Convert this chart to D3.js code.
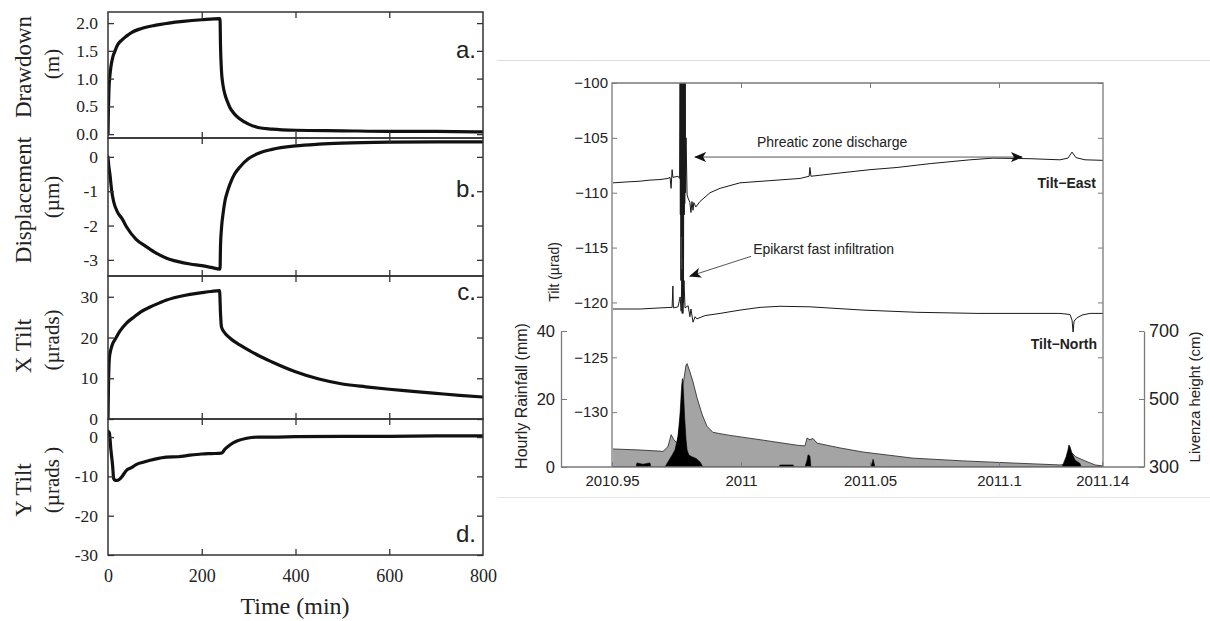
<!DOCTYPE html>
<html><head><meta charset="utf-8">
<script src="https://cdn.jsdelivr.net/npm/d3@7"></script>
<style>
html,body{margin:0;padding:0;background:#fff;}
svg{display:block;}
</style></head>
<body>
<script>
// ---------------- LEFT FIGURE DATA ----------------
const timeTicks = [0, 200, 400, 600, 800];
const drawdownT = [0,1,2,4,6,10,15,20,30,40,50,70,100,130,160,200,239,240,242,245,250,255,260,270,280,300,320,350,400,500,600,700,800];
const drawdownV = [0,0.5,0.8,1.05,1.2,1.38,1.5,1.6,1.7,1.77,1.83,1.9,1.96,2.0,2.03,2.06,2.08,1.6,1.15,0.9,0.7,0.58,0.48,0.36,0.28,0.18,0.12,0.09,0.07,0.06,0.05,0.05,0.04];
const dispT = [0,2,4,8,12,20,30,40,60,80,100,125,150,175,200,220,239,240,242,246,250,255,260,270,281,300,324,350,400,450,500,600,700,800];
const dispV = [0,-0.3,-0.5,-1.0,-1.3,-1.6,-1.8,-2.05,-2.4,-2.6,-2.78,-2.95,-3.05,-3.12,-3.17,-3.22,-3.27,-2.6,-2.1,-1.6,-1.25,-1.0,-0.8,-0.5,-0.3,-0.05,0.12,0.22,0.32,0.37,0.4,0.43,0.44,0.44];
const xtiltT = [0,1,3,6,10,15,25,40,55,70,90,110,125,150,175,200,220,238,240,242,250,260,270,281,300,324,350,400,450,500,550,600,650,700,750,800];
const xtiltV = [0,8,15,17,18.5,19.5,21.5,23.6,25,26.3,27.5,28.5,29.2,30,30.6,31,31.3,31.5,26,22.6,21.0,19.9,19.0,18.2,16.9,15.4,14.0,11.6,9.8,8.6,7.9,7.3,6.8,6.3,5.8,5.4];
const ytiltT = [0,3,6,10,12,15,20,25,30,40,50,60,75,100,125,150,175,200,220,242,250,260,275,296,320,350,400,500,600,700,800];
const ytiltV = [1.5,1,-3,-7.5,-10.5,-11,-11,-10.7,-10,-8.4,-7.8,-7,-6.4,-5.6,-5.1,-5,-4.6,-4.3,-4.2,-4.1,-3,-2,-1,-0.3,0,0,0.1,0.2,0.2,0.3,0.3];

const panelNames = ["a.", "b.", "c.", "d."];
const panelTitles = ["Drawdown", "Displacement", "X Tilt", "Y Tilt"];
const panelUnits = ["(m)", "(\u00b5m)", "(\u00b5rads)", "(\u00b5rads )"];
const panelDomains = [[-0.07, 2.2], [-3.47, 0.55], [0, 35.1], [-30, 4.6]];
const panelTicks = [[0, 0.5, 1, 1.5, 2], [-3, -2, -1, 0], [0, 10, 20, 30], [-30, -20, -10, 0]];

// ---------------- RIGHT FIGURE DATA ----------------
const yearTicks = [2010.95, 2011, 2011.05, 2011.1, 2011.14];
const tiltTicks = [-130, -125, -120, -115, -110, -105, -100];
const rainTicks = [0, 20, 40];
const livTicks = [300, 500, 700];

const eastYears = [2010.9504,2010.9570,2010.9609,2010.9647,2010.9686,2010.9717,2010.9725,2010.9729,2010.9733,2010.9736,2010.9756,2010.9762,
  2010.9764,2010.9765,2010.9766,2010.9767,2010.9769,2010.9770,2010.9771,2010.9772,2010.9774,2010.9775,2010.9776,2010.9777,2010.9779,2010.9780,2010.9781,2010.9782,2010.9784,2010.9785,
  2010.9787,2010.9791,2010.9795,2010.9802,2010.9806,2010.9810,2010.9814,2010.9817,2010.9825,2010.9841,2010.9880,2010.9919,2010.9996,2011.0112,2011.0229,2011.0264,2011.0267,2011.0271,2011.0384,2011.0500,2011.0605,2011.0733,2011.0888,2011.0977,2011.1120,2011.1236,2011.1267,2011.1283,2011.1298,2011.1333,2011.1403];
const eastTilt = [-109.1,-109.0,-108.95,-108.85,-108.8,-108.7,-108.6,-109.6,-107.9,-108.6,-108.5,-108.7,
  -97,-112,-97,-118,-97,-114,-97,-121,-97,-116,-97,-120,-97,-112,-97,-111,-97,-110,
  -105,-110.2,-110.5,-110.9,-111.8,-110.8,-111.6,-110.9,-111.3,-110.8,-110.0,-109.6,-109.1,-108.9,-108.7,-108.5,-107.7,-108.5,-108.2,-107.9,-107.7,-107.35,-107.0,-106.85,-106.9,-107.0,-106.85,-106.3,-106.8,-107.0,-107.05];

const northYears = [2010.9504,2010.9609,2010.9686,2010.9733,2010.9736,2010.9738,2010.9756,2010.9764,2010.9768,2010.9771,2010.9775,2010.9779,2010.9783,2010.9795,2010.9802,2010.9806,2010.9814,2010.9822,2010.9829,2010.9860,2010.9919,2010.9996,2011.0074,2011.0151,2011.0267,2011.0473,2011.0682,2011.0915,2011.1236,2011.1275,2011.1283,2011.1287,2011.1291,2011.1302,2011.1322,2011.1353,2011.1403];
const northTilt = [-120.6,-120.6,-120.5,-120.45,-118.5,-120.5,-120.4,-119.5,-120.8,-117,-121,-118,-120.5,-120.3,-121.3,-120.6,-121.8,-121.3,-121.5,-121.2,-121.0,-120.7,-120.45,-120.35,-120.4,-120.7,-120.9,-121.0,-121.0,-121.1,-121.6,-122.7,-121.7,-121.4,-121.15,-121.0,-121.0];

const livYears = [2010.9504,2010.9609,2010.9698,2010.9717,2010.9729,2010.9740,2010.9752,2010.9764,2010.9775,2010.9787,2010.9791,2010.9802,2010.9814,2010.9829,2010.9849,2010.9868,2010.9891,2010.9919,2010.9957,2011.0085,2011.0217,2011.0248,2011.0256,2011.0267,2011.0279,2011.0295,2011.0384,2011.0473,2011.0667,2011.0860,2011.1043,2011.1236,2011.1260,2011.1271,2011.1283,2011.1298,2011.1333,2011.1372,2011.1403];
const livHeight = [353,350,346,360,395,380,370,430,540,600,604,580,550,505,455,420,402,398,393,379,364,362,385,380,384,370,356,344,326,318,312,306,308,335,341,330,318,306,303];

const rainYears = [2010.9504,2010.9593,2010.9597,2010.9620,2010.9647,2010.9651,2010.9705,2010.9717,2010.9733,2010.9744,2010.9756,2010.9764,2010.9770,2010.9773,2010.9777,2010.9782,2010.9787,2010.9791,2010.9798,2010.9810,2010.9826,2010.9841,2010.9853,2011.0147,2011.0151,2011.0202,2011.0206,2011.0248,2011.0256,2011.0260,2011.0267,2011.0271,2011.0504,2011.0512,2011.0519,2011.1244,2011.1252,2011.1260,2011.1267,2011.1271,2011.1275,2011.1283,2011.1295,2011.1314,2011.1318,2011.1403];
const rainMM = [0,0,1.2,0.8,1.2,0,0,1.5,3.5,5,9,16,24,26,22,14,8,5,3.5,3,2.5,1.5,0,0,0.6,0.6,0,0,2,3.6,3.2,0,0,2.3,0,0,1.5,3,5,6.5,6,4,2,1,0,0];

// ---------------- DRAW ----------------
const W = 1210, H = 621;
const svg = d3.select("body").append("svg").attr("width", W).attr("height", H);

// ===== Left figure =====
const serif = "'Liberation Serif','Times New Roman',serif";
const sans = "'Liberation Sans',Arial,Helvetica,sans-serif";
const L = {x0: 108, x1: 483};
const panelBounds = [[12, 138], [138, 276], [276, 419], [419, 555]];
const seriesT = [drawdownT, dispT, xtiltT, ytiltT];
const seriesV = [drawdownV, dispV, xtiltV, ytiltV];
const titleY = [67, 200, 346, 490];
const unitY = [64, 197, 340, 480];
const nameY = [58, 197, 300, 542];
const xL = d3.scaleLinear().domain([0, 800]).range([L.x0, L.x1]);

const left = svg.append("g");
panelDomains.forEach((dom, i) => {
  const [top, bot] = panelBounds[i];
  const y = d3.scaleLinear().domain(dom).range([bot, top]);
  const g = left.append("g");
  const cid = "clipL" + i;
  svg.append("clipPath").attr("id", cid).append("rect")
    .attr("x", L.x0).attr("y", top).attr("width", L.x1 - L.x0).attr("height", bot - top);

  const pts = seriesT[i].map((t, k) => [t, seriesV[i][k]]);
  g.append("path").attr("clip-path", `url(#${cid})`)
    .attr("d", d3.line().x(d => xL(d[0])).y(d => y(d[1])).curve(d3.curveMonotoneX)(pts))
    .attr("fill", "none").attr("stroke", "#111").attr("stroke-width", 3.2)
    .attr("stroke-linejoin", "round").attr("stroke-linecap", "round");

  g.append("rect").attr("x", L.x0).attr("y", top).attr("width", L.x1 - L.x0).attr("height", bot - top)
    .attr("fill", "none").attr("stroke", "#333").attr("stroke-width", 1.5);

  const fmt = i === 0 ? d3.format(".1f") : (d => (d < 0 ? "-" + Math.abs(d) : String(d)));
  const ax = g.append("g").attr("transform", `translate(${L.x0},0)`)
    .call(d3.axisLeft(y).tickValues(panelTicks[i]).tickSizeInner(-6).tickSizeOuter(0).tickPadding(10).tickFormat(fmt));
  ax.select(".domain").remove();
  ax.selectAll("line").attr("stroke", "#333").attr("stroke-width", 1.3);
  ax.selectAll("text").style("font-family", serif).style("font-size", "17.5px").attr("fill", "#222");

  const axr = g.append("g").attr("transform", `translate(${L.x1},0)`)
    .call(d3.axisRight(y).tickValues(panelTicks[i]).tickSizeInner(-6).tickSizeOuter(0).tickFormat(() => ""));
  axr.select(".domain").remove();
  axr.selectAll("line").attr("stroke", "#333").attr("stroke-width", 1.3);

  [[top, d3.axisTop], [bot, d3.axisBottom]].forEach(([yy, fn]) => {
    const a = g.append("g").attr("transform", `translate(0,${yy})`)
      .call(fn(xL).tickValues([200, 400, 600]).tickSizeInner(-6).tickSizeOuter(0).tickFormat(() => ""));
    a.select(".domain").remove();
    a.selectAll("line").attr("stroke", "#333").attr("stroke-width", 1.3);
  });

  g.append("text").attr("transform", `translate(31,${titleY[i]}) rotate(-90)`)
    .attr("text-anchor", "middle").style("font-family", serif).style("font-size", "23px").attr("fill", "#222")
    .text(panelTitles[i]);
  g.append("text").attr("transform", `translate(59,${unitY[i]}) rotate(-90)`)
    .attr("text-anchor", "middle").style("font-family", serif).style("font-size", "21px").attr("fill", "#222")
    .text(panelUnits[i]);
  g.append("text").attr("x", 476).attr("y", nameY[i]).attr("text-anchor", "end")
    .style("font-family", sans).style("font-size", "24px").attr("fill", "#222").text(panelNames[i]);
});

const axT = left.append("g").attr("transform", `translate(0,555)`)
  .call(d3.axisBottom(xL).tickValues(timeTicks).tickSize(0).tickPadding(14));
axT.select(".domain").remove();
axT.selectAll("text").style("font-family", serif).style("font-size", "18px").attr("fill", "#222");
left.append("text").attr("x", 295).attr("y", 614).attr("text-anchor", "middle")
  .style("font-family", serif).style("font-size", "24px").attr("fill", "#222").text("Time (min)");

// ===== Right figure =====
const R = svg.append("g");
R.append("line").attr("x1", 497).attr("x2", 1210).attr("y1", 60.5).attr("y2", 60.5).attr("stroke", "#dcdcdc");
R.append("line").attr("x1", 497).attr("x2", 1210).attr("y1", 497.5).attr("y2", 497.5).attr("stroke", "#e4e4e4");

const xR = d3.scaleLinear().domain([2010.95, 2011.1403]).range([612, 1103]);
const yT = d3.scaleLinear().domain([-135, -100]).range([467, 83]);
const yRain = d3.scaleLinear().domain([0, 40]).range([467, 331]);
const yLiv = d3.scaleLinear().domain([300, 700]).range([467, 331]);

svg.append("clipPath").attr("id", "clipR").append("rect")
  .attr("x", 612).attr("y", 83).attr("width", 1103 - 612).attr("height", 467 - 83);

const livPts = livYears.map((d, k) => [d, livHeight[k]]);
R.append("path").attr("clip-path", "url(#clipR)")
  .attr("d", d3.area().x(d => xR(d[0])).y0(yLiv(300)).y1(d => yLiv(d[1]))(livPts))
  .attr("fill", "#a4a4a4");
R.append("path").attr("clip-path", "url(#clipR)")
  .attr("d", d3.line().x(d => xR(d[0])).y(d => yLiv(d[1]))(livPts))
  .attr("fill", "none").attr("stroke", "#333").attr("stroke-width", 0.9);

const rainPts = rainYears.map((d, k) => [d, rainMM[k]]);
R.append("path").attr("clip-path", "url(#clipR)")
  .attr("d", d3.area().x(d => xR(d[0])).y0(yRain(0)).y1(d => yRain(d[1]))(rainPts))
  .attr("fill", "#000").attr("stroke", "#000").attr("stroke-width", 0.6);

const tiltLine = d3.line().x(d => xR(d[0])).y(d => yT(d[1]));
R.append("path").attr("clip-path", "url(#clipR)")
  .attr("d", tiltLine(eastYears.map((d, k) => [d, eastTilt[k]])))
  .attr("fill", "none").attr("stroke", "#1a1a1a").attr("stroke-width", 1);
R.append("path").attr("clip-path", "url(#clipR)")
  .attr("d", tiltLine(northYears.map((d, k) => [d, northTilt[k]])))
  .attr("fill", "none").attr("stroke", "#1a1a1a").attr("stroke-width", 1);

const frameC = "#7a7a7a";
R.append("path").attr("d", `M612,467V83H1103V467`).attr("fill", "none").attr("stroke", frameC).attr("stroke-width", 1.3);

const axTilt = R.append("g").attr("transform", "translate(612,0)")
  .call(d3.axisLeft(yT).tickValues(tiltTicks).tickSizeInner(-5).tickSizeOuter(0).tickPadding(4)
    .tickFormat(d => "\u2212" + Math.abs(d)));
axTilt.select(".domain").remove();
axTilt.selectAll("line").attr("stroke", frameC);
axTilt.selectAll("text").style("font-family", sans).style("font-size", "15px").attr("fill", "#222");
const axTiltR = R.append("g").attr("transform", "translate(1103,0)")
  .call(d3.axisRight(yT).tickValues(tiltTicks).tickSizeInner(-5).tickSizeOuter(0).tickFormat(() => ""));
axTiltR.select(".domain").remove();
axTiltR.selectAll("line").attr("stroke", frameC);

const axTop = R.append("g").attr("transform", "translate(0,83)")
  .call(d3.axisTop(xR).tickValues(yearTicks.slice(1, 4)).tickSizeInner(-5).tickSizeOuter(0).tickFormat(() => ""));
axTop.select(".domain").remove();
axTop.selectAll("line").attr("stroke", frameC);

const axBot = R.append("g").attr("transform", "translate(0,467)")
  .call(d3.axisBottom(xR).tickValues(yearTicks).tickSizeInner(-5).tickSizeOuter(0).tickPadding(8)
    .tickFormat(d => String(d)));
axBot.select(".domain").remove();
axBot.selectAll("line").attr("stroke", frameC);
axBot.selectAll("text").style("font-family", sans).style("font-size", "15px").attr("fill", "#222");
R.append("line").attr("x1", 561).attr("x2", 1144).attr("y1", 467).attr("y2", 467).attr("stroke", frameC).attr("stroke-width", 1.3);

const axRain = R.append("g").attr("transform", "translate(561,0)")
  .call(d3.axisLeft(yRain).tickValues(rainTicks).tickSizeInner(-6).tickSizeOuter(0).tickPadding(6));
axRain.select(".domain").attr("stroke", frameC).attr("stroke-width", 1.3);
axRain.selectAll("line").attr("stroke", frameC);
axRain.selectAll("text").style("font-family", sans).style("font-size", "16.5px").attr("fill", "#222");

const axLiv = R.append("g").attr("transform", "translate(1144,0)")
  .call(d3.axisRight(yLiv).tickValues(livTicks).tickSizeInner(-5).tickSizeOuter(0).tickPadding(5));
axLiv.select(".domain").attr("stroke", frameC).attr("stroke-width", 1.3);
axLiv.selectAll("line").attr("stroke", frameC);
axLiv.selectAll("text").style("font-family", sans).style("font-size", "18px").attr("fill", "#222");

R.append("text").attr("transform", "translate(559,272) rotate(-90)").attr("text-anchor", "middle")
  .style("font-family", sans).style("font-size", "14px").attr("fill", "#222").text("Tilt (\u00b5rad)");
R.append("text").attr("transform", "translate(527,396) rotate(-90)").attr("text-anchor", "middle")
  .style("font-family", sans).style("font-size", "16px").attr("fill", "#222").text("Hourly Rainfall (mm)");
R.append("text").attr("transform", "translate(1200,397) rotate(-90)").attr("text-anchor", "middle")
  .style("font-family", sans).style("font-size", "15px").attr("fill", "#222").text("Livenza height (cm)");

const defs = svg.append("defs");
defs.append("marker").attr("id", "arr").attr("viewBox", "0 0 12 10").attr("refX", 11).attr("refY", 5)
  .attr("markerWidth", 12).attr("markerHeight", 10).attr("markerUnits", "userSpaceOnUse").attr("orient", "auto-start-reverse")
  .append("path").attr("d", "M0,0 L12,5 L0,10 L3,5 Z").attr("fill", "#111");

R.append("line")
  .attr("x1", xR(2010.9822)).attr("y1", yT(-106.75)).attr("x2", xR(2011.1089)).attr("y2", yT(-106.75))
  .attr("stroke", "#555").attr("stroke-width", 1)
  .attr("marker-start", "url(#arr)").attr("marker-end", "url(#arr)");
R.append("text").attr("x", xR(2011.0062)).attr("y", yT(-105.85))
  .style("font-family", sans).style("font-size", "14px").attr("fill", "#222").text("Phreatic zone discharge");
R.append("line")
  .attr("x1", xR(2011.0039)).attr("y1", yT(-115.8)).attr("x2", xR(2010.9802)).attr("y2", yT(-117.6))
  .attr("stroke", "#555").attr("stroke-width", 1).attr("marker-end", "url(#arr)");
R.append("text").attr("x", xR(2011.0047)).attr("y", yT(-115.6))
  .style("font-family", sans).style("font-size", "14px").attr("fill", "#222").text("Epikarst fast infiltration");
R.append("text").attr("x", xR(2011.1376)).attr("y", yT(-109.6)).attr("text-anchor", "end")
  .style("font-family", sans).style("font-size", "14px").style("font-weight", "bold").attr("fill", "#222").text("Tilt\u2212East");
R.append("text").attr("x", xR(2011.1380)).attr("y", yT(-124.2)).attr("text-anchor", "end")
  .style("font-family", sans).style("font-size", "14px").style("font-weight", "bold").attr("fill", "#222").text("Tilt\u2212North");
</script>
</body></html>
